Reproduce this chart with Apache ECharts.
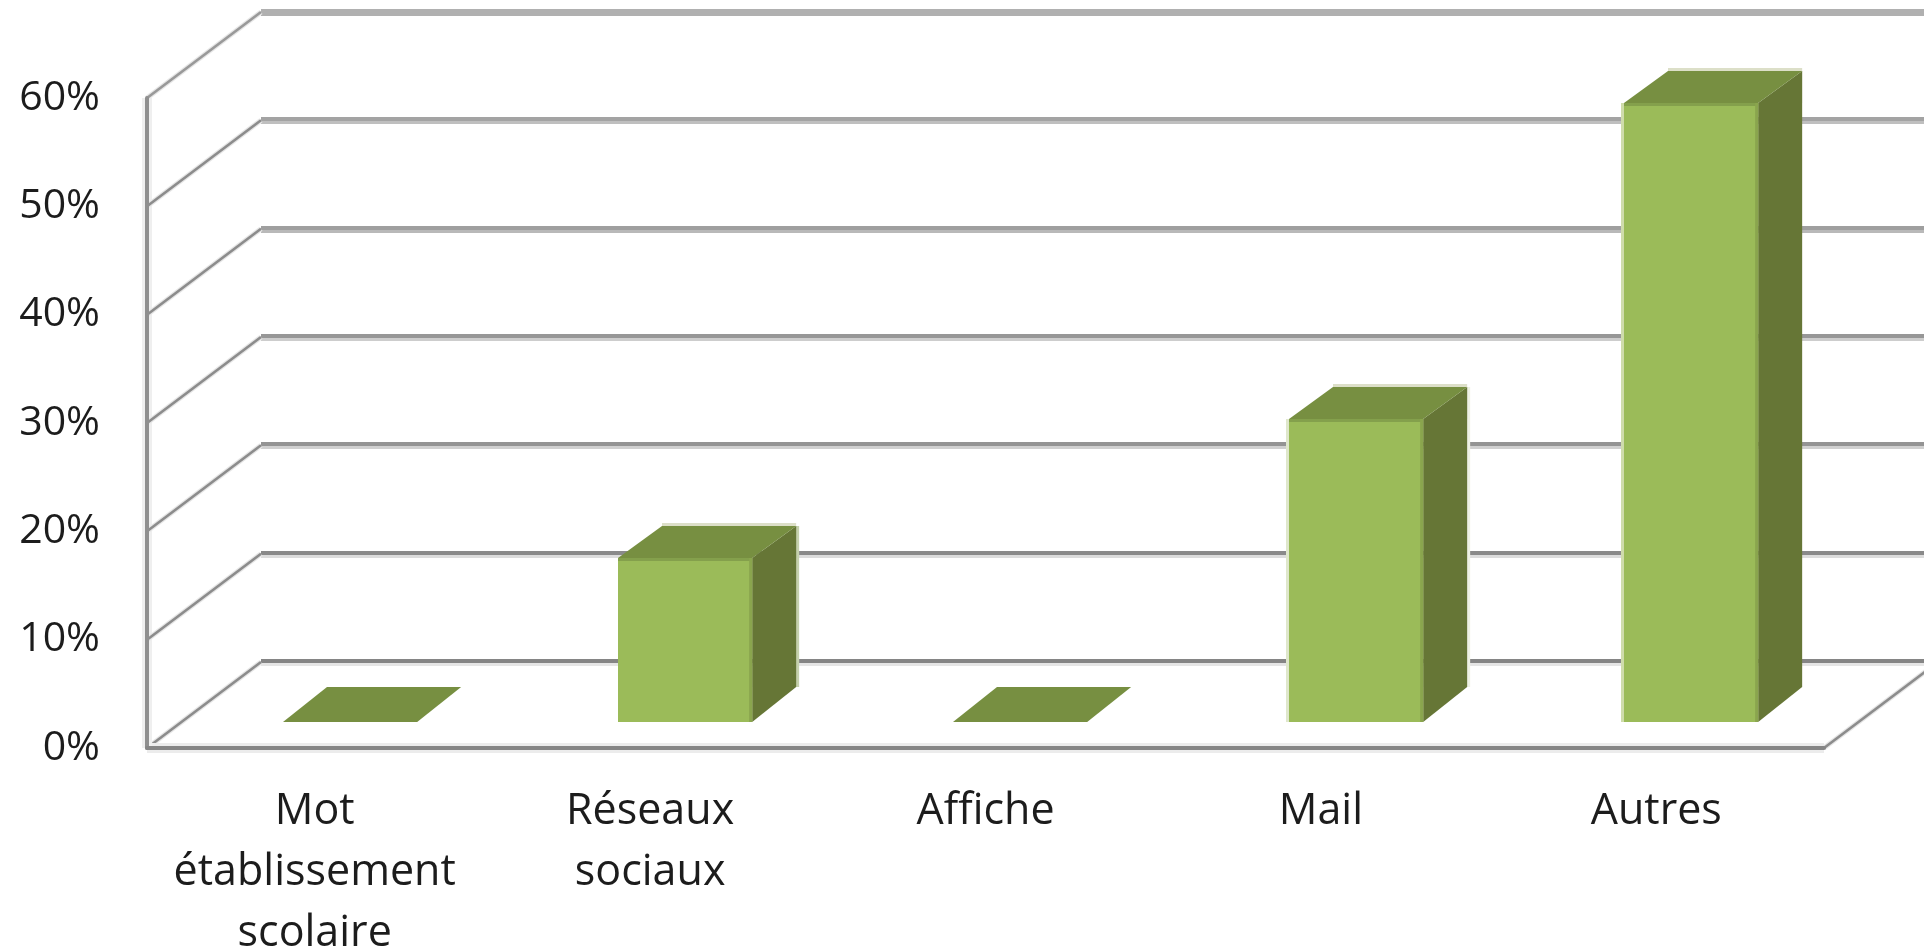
<!DOCTYPE html>
<html>

	<head>
		<meta charset="utf-8" />
		<title>Graphique</title>
		<style>
			html, body { margin: 0; padding: 0; background: #fff; overflow: hidden; }
			#main { width: 1924px; height: 947px; }
		</style>
	</head>

	<body>
		<div id="main"></div>
		<script src="https://cdn.jsdelivr.net/npm/echarts@6/dist/echarts.min.js"></script>
		<script>
			var categories = ["Mot\nétablissement\nscolaire", "Réseaux\nsociaux", "Affiche", "Mail", "Autres"];
			var percentValues = [0, 15.1, 0, 28, 57.1];
			var yTicks = [0, 10, 20, 30, 40, 50, 60];

			//gris des lignes du fond, de 0% a 60%
			var wallDark = ["#858585", "#8a8a8a", "#949494", "#979797", "#9f9f9f", "#a3a3a3", "#b0b0b0"];
			var wallLight = ["#e5e5e5", "#dcdcdc", "#d0d0d0", "#cdcdcd", "#b9b9b9", "#bfbfbf", "#b0b0b0"];
			//liseres clairs autour des barres
			var fringeLeft = ["", "", "", "#dfe7cc", "#cfdcab"];
			var fringeRight = ["", "#c5d0ad", "", "#eef1e4", ""];

			//profondeur de la perspective
			var depthX = 114, depthY = 86;
			var barDepthX = 44, barDepthY = 35, barTopDepthY = 32;
			var barShiftX = 35, barShiftY = 26;

			function poly(points, color) {
				return { type: "polygon", shape: { points: points }, style: { fill: color } };
			}

			function box(x, y, w, h, color) {
				return { type: "rect", shape: { x: x, y: y, width: w, height: h }, style: { fill: color } };
			}

			function stroke(x1, y1, x2, y2, color, width) {
				return { type: "line", shape: { x1: x1, y1: y1, x2: x2, y2: y2 }, style: { stroke: color, lineWidth: width } };
			}

			//lignes du mur du fond et diagonales de la paroi gauche
			function renderWall(params, api) {
				var i = params.dataIndex;
				var grid = params.coordSys;
				var p = api.coord([0, api.value(1)]);
				var y = Math.round(p[1] - depthY);
				var children = [
					box(grid.x + depthX, y - 3, grid.width, 4, wallDark[i]),
					box(grid.x + depthX, y + 1, grid.width, 3, wallLight[i]),
					stroke(grid.x, p[1], grid.x + depthX, p[1] - depthY, "#e6e6e6", 5),
					stroke(grid.x, p[1], grid.x + depthX, p[1] - depthY, wallDark[i] === "#b0b0b0" ? "#999" : "#8c8c8c", 2.6)
				];
				if(i === 0) {
					//sol : halo de l'axe et diagonale de droite
					var rightX = grid.x + grid.width;
					children.push(box(grid.x, p[1] - 5, grid.width, 10, "#ececec"));
					children.push(box(grid.x - 5, grid.y, 10, grid.height, "#efefef"));
					children.push(stroke(rightX, p[1], rightX + depthX, p[1] - depthY, "#e6e6e6", 5));
					children.push(stroke(rightX, p[1], rightX + depthX, p[1] - depthY, "#8c8c8c", 2.6));
				}
				return { type: "group", children: children };
			}

			function renderBar(params, api) {
				var i = params.dataIndex;
				var filled = api.value(1) > 0;
				var base = api.coord([i, 0]);
				var top = api.coord([i, api.value(1)]);
				var w = api.size([1, 0])[0] * 0.4;
				var x0 = Math.round(base[0] + barShiftX - w / 2);
				var x1 = x0 + w;
				var y0 = Math.round(base[1] - barShiftY);
				var y1 = Math.round(top[1] - barShiftY);
				var dx = barDepthX;
				var topY = y1 - (filled ? barTopDepthY : barDepthY);
				var children = [];
				if(filled) {
					children.push(box(x0 + dx, topY - 3, w, 4, "#dcdfc8"));
					if(fringeLeft[i]) {
						children.push(box(x0 - 3, y1, 4, y0 - y1, fringeLeft[i]));
					}
					if(fringeRight[i]) {
						children.push(box(x1 + dx - 1, topY, 4, y0 - barDepthY - topY, fringeRight[i]));
					}
					children.push(poly([[x1, y1], [x1 + dx, topY], [x1 + dx, y0 - barDepthY], [x1, y0]], "#667636"));
				}
				children.push(poly([[x0, y1], [x1, y1], [x1 + dx, topY], [x0 + dx, topY]], "#778f41"));
				if(filled) {
					children.push(box(x0, y1, w, y0 - y1, "#9bbb59"));
					children.push(box(x0, y1, w, 3, "#84a04c"));
					children.push(box(x1 - 3, y1, 3, y0 - y1, "#8aa54e"));
				}
				return { type: "group", children: children };
			}

			var chart = echarts.init(document.getElementById("main"));

			chart.setOption({
				animation: false,
				backgroundColor: "#fff",
				grid: { left: 147, top: 98, width: 1677, height: 650, containLabel: false, outerBoundsMode: "none" },
				xAxis: {
					type: "category",
					data: categories,
					z: 5,
					axisTick: { show: false },
					axisLine: { lineStyle: { color: "#868686", width: 4 } },
					axisLabel: { interval: 0, margin: 33, lineHeight: 61, align: "center", fontFamily: "Open Sans", fontSize: 43, color: "#1c1c1c" }
				},
				yAxis: {
					type: "value",
					min: 0,
					max: 60,
					interval: 10,
					z: 5,
					splitLine: { show: false },
					axisTick: { show: false },
					axisLine: { show: true, lineStyle: { color: "#8f8f8f", width: 4 } },
					axisLabel: { formatter: "{value}%", margin: 47, fontFamily: "Open Sans", fontSize: 41, color: "#1c1c1c" }
				},
				series: [
					{
						type: "custom",
						name: "fond",
						z: 1,
						silent: true,
						renderItem: renderWall,
						encode: { x: 0, y: 1 },
						data: yTicks.map(function(t) { return [0, t]; })
					},
					{
						type: "custom",
						name: "barres",
						z: 6,
						renderItem: renderBar,
						encode: { x: 0, y: 1 },
						data: percentValues.map(function(v, i) { return [i, v]; })
					}
				]
			});
		</script>
	</body>

</html>
